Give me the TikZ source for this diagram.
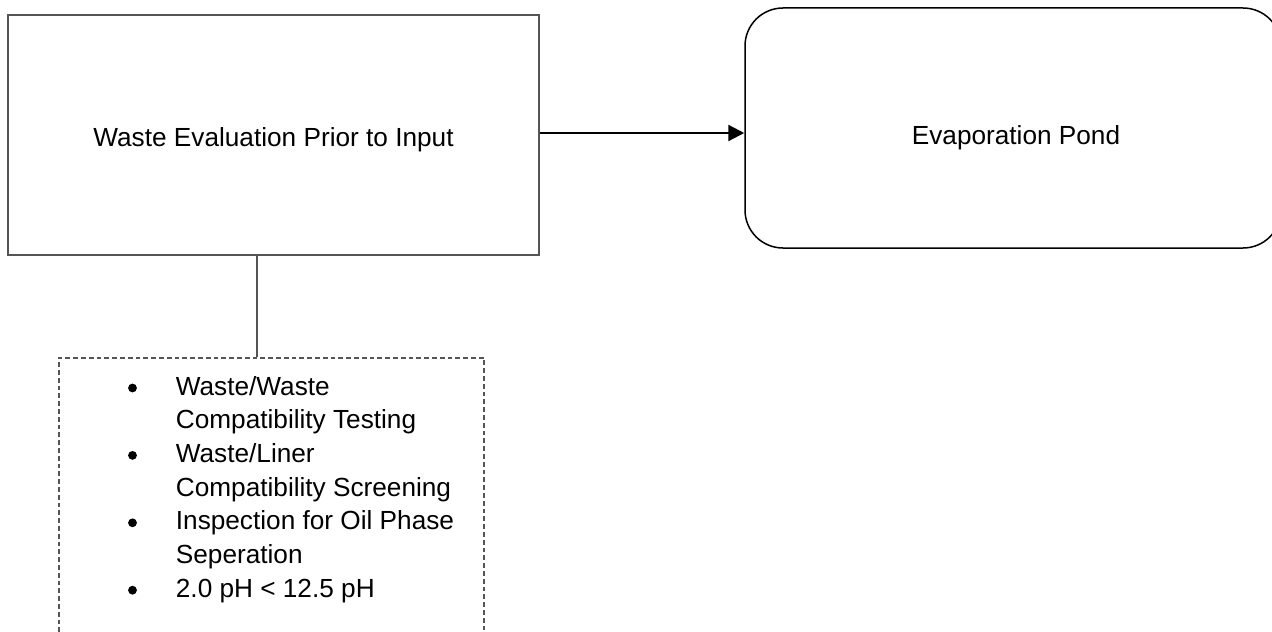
\documentclass[tikz,border=0pt]{standalone}
\usepackage{fontspec}
\setmainfont{Liberation Sans}
\usetikzlibrary{arrows.meta}
\definecolor{boxgray}{RGB}{85,85,85}
\begin{document}
\begin{tikzpicture}[x=0.5pt,y=-0.5pt,
  txt/.style={font=\fontsize{13.1}{16.85}\selectfont, inner sep=0pt},
  plainbox/.style={draw=boxgray, line width=0.8pt, minimum width=265.5pt, minimum height=120pt, inner sep=0pt},
  roundbox/.style={draw=black, line width=0.75pt, rounded corners=19pt, minimum width=268pt, minimum height=120pt, inner sep=0pt},
  dashbox/.style={draw=boxgray, line width=0.75pt, dash pattern=on 2.4pt off 1.5pt, minimum width=212.5pt, minimum height=150pt, inner sep=0pt},
  listtext/.style={txt, anchor=base west},
  bulletdot/.style={circle, fill=black, inner sep=0pt, minimum size=4.4pt},
  link/.style={draw=boxgray, line width=0.8pt},
  flow/.style={draw=black, line width=1.1pt, -{Triangle[length=8pt,width=8pt]}}]
\useasboundingbox (0,0) rectangle (1272,631);
\clip (0,0) rectangle (1272,631);
\node[plainbox] (L) at (273.5,135) {};
\node[txt] (Lt) at (273.5,140) {Waste Evaluation Prior to Input};
\node[roundbox] (R) at (1013,128) {};
\node[txt] (Rt) at (1016,138) {Evaporation Pond};
\node[dashbox, anchor=north] (D) at (271.5,357) {};
\node[listtext] (list) at (175.5,395) {\begin{tabular}[t]{@{}l@{}}
Waste/Waste\\
Compatibility Testing\\
Waste/Liner\\
Compatibility Screening\\
Inspection for Oil Phase\\
Seperation\\
2.0 pH < 12.5 pH
\end{tabular}};
\node[bulletdot] (b1) at (132.5,388) {};
\node[bulletdot] (b2) at (132.5,455.4) {};
\node[bulletdot] (b3) at (132.5,522.8) {};
\node[bulletdot] (b4) at (132.5,590.2) {};
\coordinate (V) at (257,300);
\draw[flow] ([yshift=1pt]L.east) -- ([yshift=1pt]L.east -| R.west);
\draw[link] (V |- L.south) -- (V |- D.north);
\end{tikzpicture}
\end{document}
